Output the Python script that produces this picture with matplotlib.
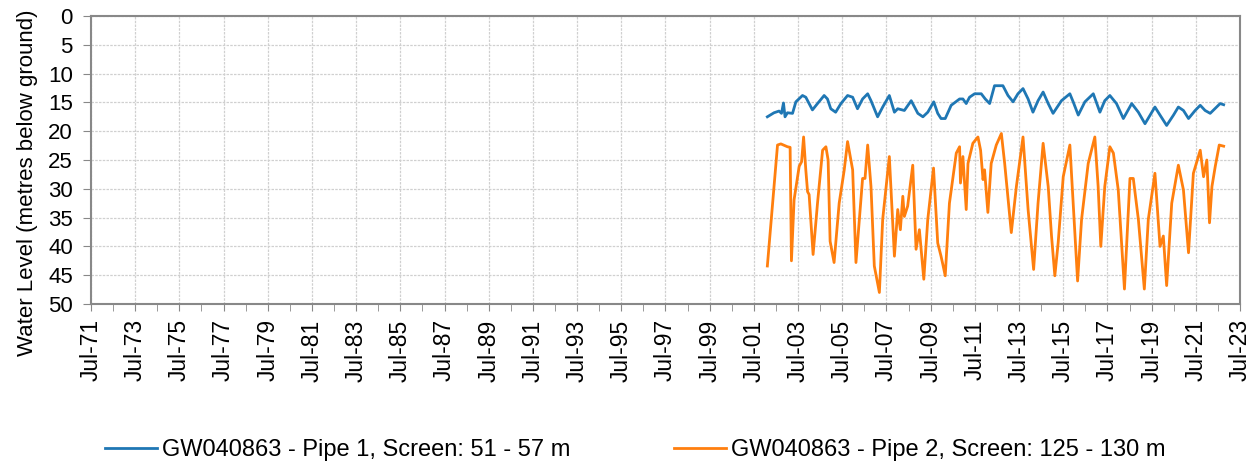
import numpy as np
import matplotlib
matplotlib.use("Agg")
import matplotlib.pyplot as plt

plt.rcParams['font.family'] = ['Liberation Sans', 'DejaVu Sans']

# decimal years and depth (m below ground)
pipe1_year = [2002.11, 2002.41, 2002.64, 2002.75, 2002.84, 2002.91, 2003.02, 2003.25,
              2003.40, 2003.70, 2003.85, 2004.15, 2004.38, 2004.68, 2004.83, 2004.98,
              2005.20, 2005.44, 2005.74, 2005.97, 2006.19, 2006.42, 2006.65, 2006.80,
              2007.10, 2007.33, 2007.63, 2007.86, 2008.01, 2008.31, 2008.62, 2008.77,
              2008.92, 2009.15, 2009.37, 2009.64, 2009.82, 2009.97, 2010.16, 2010.43,
              2010.81, 2010.96, 2011.11, 2011.26, 2011.49, 2011.79, 2011.97, 2012.17,
              2012.39, 2012.77, 2013.00, 2013.23, 2013.45, 2013.68, 2013.91, 2014.13,
              2014.36, 2014.59, 2014.82, 2015.04, 2015.42, 2015.80, 2015.95, 2016.18,
              2016.48, 2016.86, 2017.16, 2017.38, 2017.61, 2017.91, 2018.22, 2018.60,
              2018.90, 2019.20, 2019.65, 2019.88, 2020.18, 2020.49, 2020.71, 2020.94,
              2021.17, 2021.47, 2021.70, 2021.92, 2022.15, 2022.60, 2022.76]
pipe1_level = [17.5, 16.8, 16.5, 16.9, 15.1, 17.5, 16.8, 16.9,
               14.9, 13.8, 14.1, 16.3, 15.2, 13.8, 14.4, 16.1,
               16.7, 15.2, 13.8, 14.1, 16.1, 14.4, 13.5, 14.7,
               17.5, 15.8, 13.8, 16.7, 16.1, 16.4, 14.7, 15.8,
               16.9, 17.5, 16.7, 14.9, 16.9, 17.8, 17.8, 15.5,
               14.4, 14.4, 15.2, 14.1, 13.5, 13.5, 14.4, 15.2,
               12.1, 12.1, 13.8, 14.9, 13.5, 12.6, 14.4, 16.7,
               14.7, 13.2, 15.2, 16.9, 14.7, 13.5, 14.9, 17.2,
               14.9, 13.5, 16.7, 14.7, 13.8, 15.2, 17.8, 15.2,
               16.7, 18.7, 15.8, 17.2, 19.0, 17.2, 15.8, 16.4,
               17.8, 16.4, 15.5, 16.4, 16.9, 15.2, 15.4]

pipe2_year = [2002.11, 2002.57, 2002.72, 2003.02, 2003.14, 2003.20, 2003.32, 2003.55,
              2003.66, 2003.75, 2003.85, 2003.93, 2004.00, 2004.18, 2004.38, 2004.61,
              2004.76, 2004.86, 2004.95, 2005.13, 2005.36, 2005.59, 2005.74, 2005.97,
              2006.12, 2006.42, 2006.53, 2006.65, 2006.80, 2006.95, 2007.18, 2007.33,
              2007.63, 2007.86, 2008.01, 2008.13, 2008.24, 2008.31, 2008.46, 2008.69,
              2008.84, 2008.99, 2009.19, 2009.37, 2009.63, 2009.82, 2009.97, 2010.05,
              2010.16, 2010.35, 2010.66, 2010.81, 2010.85, 2010.96, 2011.11, 2011.19,
              2011.41, 2011.64, 2011.76, 2011.87, 2011.94, 2012.09, 2012.24, 2012.47,
              2012.70, 2012.85, 2013.15, 2013.38, 2013.68, 2013.91, 2014.16, 2014.36,
              2014.59, 2014.82, 2014.97, 2015.12, 2015.27, 2015.50, 2015.80, 2015.95,
              2016.15, 2016.33, 2016.63, 2016.93, 2017.08, 2017.20, 2017.38, 2017.61,
              2017.77, 2017.99, 2018.27, 2018.52, 2018.67, 2018.90, 2019.17, 2019.35,
              2019.65, 2019.88, 2020.03, 2020.18, 2020.41, 2020.71, 2020.94, 2021.17,
              2021.39, 2021.70, 2021.85, 2022.00, 2022.12, 2022.23, 2022.38, 2022.56,
              2022.76]
pipe2_level = [43.4, 22.4, 22.2, 22.7, 22.8, 42.5, 31.9, 26.1,
               25.3, 21.0, 26.7, 30.5, 31.0, 41.4, 32.5, 23.3,
               22.7, 25.0, 39.1, 42.8, 32.5, 26.7, 21.8, 26.7,
               42.8, 28.2, 28.2, 22.4, 29.6, 43.4, 48.0, 35.3,
               24.4, 41.7, 33.6, 37.1, 31.3, 34.8, 33.0, 25.9,
               40.5, 37.1, 45.7, 35.3, 26.4, 39.4, 41.7, 43.1,
               45.1, 32.5, 23.8, 22.7, 29.0, 24.4, 33.6, 25.6,
               22.1, 21.0, 23.3, 28.4, 26.7, 34.1, 25.6, 22.4,
               20.4, 25.6, 37.6, 29.6, 21.0, 33.6, 44.0, 32.5,
               22.1, 29.6, 38.2, 45.1, 39.4, 27.9, 22.4, 32.5,
               46.0, 35.3, 25.6, 21.0, 29.6, 40.0, 29.6, 22.7,
               23.8, 30.2, 47.4, 28.2, 28.2, 35.3, 47.4, 35.3,
               27.3, 40.0, 38.2, 46.8, 32.5, 25.9, 30.2, 41.1,
               27.3, 23.3, 27.9, 25.0, 35.9, 29.6, 26.1, 22.4,
               22.6]

tick_years = list(range(1971, 2024, 2))
tick_labels = ["Jul-%02d" % (y % 100) for y in tick_years]

labels = ["GW040863 - Pipe 1, Screen: 51 - 57 m",
          "GW040863 - Pipe 2, Screen: 125 - 130 m"]

fig = plt.figure(figsize=(12.58, 4.68), dpi=100)
ax = fig.add_axes([0.0723, 0.3504, 0.9134, 0.6154])

ax.plot(pipe1_year, pipe1_level, color="#1f77b4", lw=2, label=labels[0])
ax.plot(pipe2_year, pipe2_level, color="#ff7f0e", lw=2, label=labels[1])

ax.set_xlim(1971.5, 2023.5)
ax.set_ylim(50, 0)
ax.set_yticks(np.arange(0, 51, 5))
ax.set_xticks([y + 0.5 for y in tick_years])
ax.set_xticks([y + 0.5 for y in range(1972, 2023, 2)], minor=True)
ax.set_xticklabels(tick_labels, rotation=90, fontsize=16.5)
ax.tick_params(axis="y", labelsize=16, pad=7, length=6, color="#888888")
ax.tick_params(axis="x", which="both", length=5, pad=6, color="#888888")

ax.grid(True, which="major", color="#d0d0d0", linestyle=(0, (2, 1)), lw=0.9)
for s in ax.spines.values():
    s.set_color("#888888")
    s.set_linewidth(1.5)

ax.set_ylabel("Water Level (metres below ground)", fontsize=16)
ax.yaxis.set_label_coords(-0.046, 0.42)

fig.legend(loc="center", bbox_to_anchor=(0.505, 0.038), ncol=2, frameon=False,
           fontsize=17, handlelength=2.2, handletextpad=0.22, columnspacing=4.4)

fig.savefig("out.png", dpi=100)
